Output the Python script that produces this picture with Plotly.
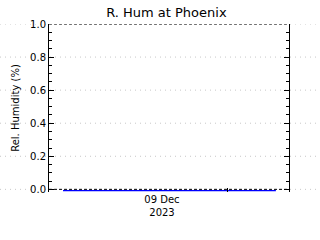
import plotly.graph_objects as go

# ---- data ----
title_text = "R. Hum at Phoenix"
y_title = "Rel. Humidity (%)"
times = ["2023-12-08 17:45", "2023-12-08 21:00", "2023-12-09 00:00", "2023-12-09 03:00",
         "2023-12-09 06:00", "2023-12-09 09:00", "2023-12-09 12:00", "2023-12-09 15:00",
         "2023-12-09 18:00", "2023-12-09 21:00", "2023-12-10 00:00", "2023-12-10 03:00",
         "2023-12-10 06:00", "2023-12-10 09:00"]
rel_hum = [-0.008, -0.008, -0.008, -0.008, -0.008, -0.008, -0.008, -0.008,
           -0.008, -0.008, -0.008, -0.008, -0.008, -0.008]
y_ticks = [0.0, 0.2, 0.4, 0.6, 0.8, 1.0]
x_label_pos = ["2023-12-09 12:00"]
x_label_text = ["09 Dec<br>2023"]
x_range = ["2023-12-08 15:10", "2023-12-10 11:25"]
y_range = [-0.016, 1.0]

W, H = 320, 240
ml, mr, mt, mb = 49, 31, 24, 48
pw = W - ml - mr

fig = go.Figure()
fig.add_trace(go.Scatter(x=times, y=rel_hum, mode="lines",
                         line=dict(color="#0000ff", width=1.3), showlegend=False))

shapes = []
# dotted grid lines extending across the whole width
for v in y_ticks:
    shapes.append(dict(type="line", xref="paper", yref="y",
                       x0=-ml / pw, x1=1 + mr / pw, y0=v, y1=v,
                       line=dict(color="#c8c8c8", width=1, dash="1px,4px"), layer="below"))
# dashed top and bottom borders
for v in (y_ticks[0], y_ticks[-1]):
    shapes.append(dict(type="line", xref="paper", yref="y",
                       x0=0, x1=1, y0=v, y1=v,
                       line=dict(color="black", width=1, dash="3px,2px"), layer="above"))

fig.update_layout(
    width=W, height=H,
    margin=dict(l=ml, r=mr, t=mt, b=mb),
    paper_bgcolor="white", plot_bgcolor="white",
    font=dict(family="DejaVu Sans", size=10, color="black"),
    title=dict(text=title_text, x=0.52, xanchor="center", y=0.95, yanchor="middle",
               font=dict(size=13, family="DejaVu Sans")),
    shapes=shapes,
    xaxis=dict(range=x_range, type="date", showgrid=False, zeroline=False,
               showline=False, mirror="ticks",
               tickvals=x_label_pos, ticktext=x_label_text, ticks="",
               tickfont=dict(size=10),
               minor=dict(ticks="inside", ticklen=4, tickcolor="black",
                          tick0="2023-12-10", dtick=2 * 86400000, showgrid=False)),
    yaxis=dict(range=y_range, showgrid=False, zeroline=False,
               showline=True, linecolor="black", linewidth=1, mirror="ticks",
               ticks="inside", ticklen=5, tickcolor="black",
               tickvals=y_ticks, tickformat=".1f", tickfont=dict(size=10),
               minor=dict(ticks="inside", ticklen=3, tickcolor="black", dtick=0.05),
               title=dict(text=y_title, font=dict(size=10), standoff=8)),
)

fig.write_html("out.html")
